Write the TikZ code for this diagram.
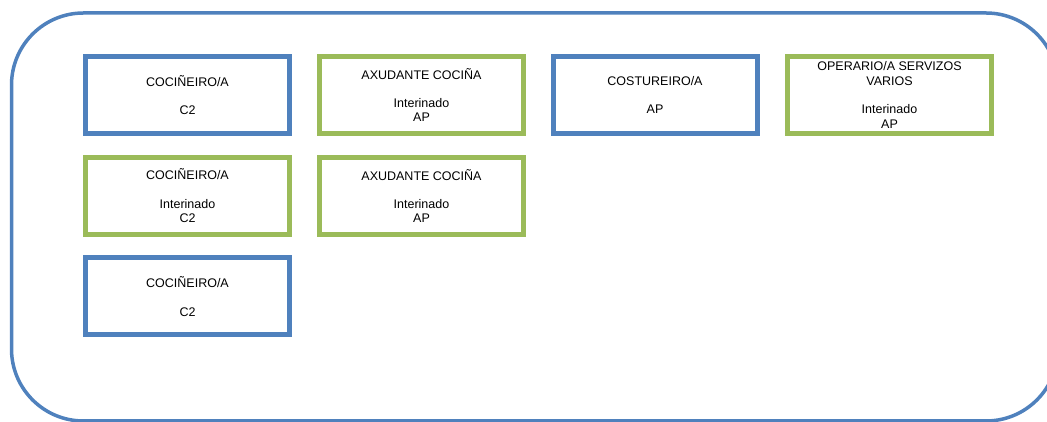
\documentclass[tikz,border=0pt]{standalone}
\usepackage{fontspec}
\setmainfont{Liberation Sans}
\definecolor{frameblue}{HTML}{4F81BD}
\definecolor{boxgreen}{HTML}{9BBB59}

\begin{document}
\begin{tikzpicture}[x=1pt,y=1pt,
  post/.style={line width=5pt, fill=white, minimum width=204pt, minimum height=77pt,
    inner sep=0pt, align=center, font=\fontsize{12.5}{14.3}\selectfont},
  bluebox/.style={post, draw=frameblue},
  greenbox/.style={post, draw=boxgreen},
  frame/.style={draw=frameblue, line width=3.5pt, rounded corners=72pt}]
\useasboundingbox (0,0) rectangle (1047,422);
\draw[frame] (11.5,409) rectangle (1058,1);
\node [bluebox] (cook1) at (187.5,327) {COCIÑEIRO/A\\[14.3pt]C2};
\node [greenbox] (helper1) at (421.5,327) {AXUDANTE COCIÑA\\[14.3pt]Interinado\\AP};
\node [bluebox] (seam) at (655,327) {COSTUREIRO/A\\[14.3pt]AP};
\node [greenbox] (oper) at (889.5,327) {OPERARIO/A SERVIZOS\\VARIOS\\[14.3pt]Interinado\\AP};
\node [greenbox] (cook2) at (187.5,226) {COCIÑEIRO/A\\[14.3pt]Interinado\\C2};
\node [greenbox] (helper2) at (421.5,226) {AXUDANTE COCIÑA\\[14.3pt]Interinado\\AP};
\node [bluebox] (cook3) at (187.5,125.5) {COCIÑEIRO/A\\[14.3pt]C2};
\end{tikzpicture}
\end{document}
